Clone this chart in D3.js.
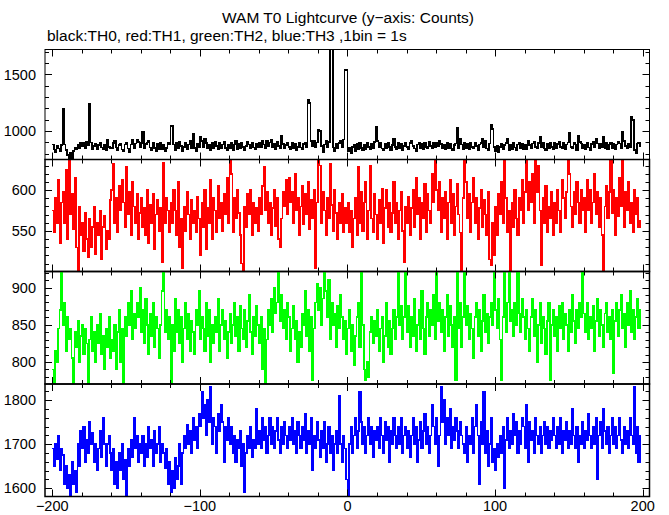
<!DOCTYPE html>
<html>
<head>
<meta charset="utf-8">
<script src="https://cdn.jsdelivr.net/npm/d3@7"></script>
<style>
  html, body { margin: 0; padding: 0; background: #fff; }
  svg { display: block; }
  text { font-family: "Liberation Sans", Arial, Helvetica, sans-serif; fill: #000; }
</style>
</head>
<body>
<svg id="chart" width="669" height="515"></svg>
<script>
// ---------------- data (1 s bins, time relative to T0) ----------------
const tStart = -200;
const xTicks = [-200, -100, 0, 100, 200];
const titleText = "WAM T0 Lightcurve (y\u2212axis: Counts)";
const subtitleText = "black:TH0, red:TH1, green:TH2, blue:TH3 ,1bin = 1s";
const seriesNames = ["TH0", "TH1", "TH2", "TH3"];
const seriesColors = ["#000000", "#ff0000", "#00ff00", "#0000ff"];

const th0 = [
880,835,815,870,845,820,875,1200,880,830,790,760,805,755,825,850,835,880,845,895,
865,900,850,905,875,1240,900,840,870,890,835,875,900,855,840,880,830,920,860,845,
850,895,915,855,830,875,890,835,820,880,900,845,815,880,920,850,890,925,905,860,
895,990,845,885,900,910,855,830,895,850,820,885,840,895,835,880,825,850,895,880,
1050,1045,880,830,895,845,905,870,825,860,895,840,880,910,845,975,850,820,890,860,
945,910,860,930,895,845,880,830,895,850,905,870,835,895,845,880,905,850,830,875,
845,895,830,880,910,840,885,845,900,860,830,870,905,880,845,895,855,835,890,860,
900,855,915,880,845,910,870,900,925,855,890,840,905,870,850,955,885,845,875,900,
860,835,895,845,885,830,860,895,855,840,885,900,860,1280,1250,910,870,915,860,900,
1015,1000,870,810,880,915,860,905,1740,1740,855,825,890,845,895,915,860,925,1540,1545,
820,850,805,860,875,825,885,840,895,850,830,880,840,895,860,835,885,845,905,1040,
910,855,895,845,830,885,850,895,860,830,875,935,860,840,895,850,885,830,870,895,
860,835,895,910,870,845,825,880,900,845,885,835,895,860,845,905,870,850,895,860,
900,865,910,885,845,880,835,895,850,885,845,830,875,890,1030,850,935,880,835,895,
850,885,835,895,860,845,900,870,830,880,895,935,860,915,845,830,890,1055,1020,860,
825,870,810,860,885,835,875,895,930,830,880,840,895,855,830,880,900,845,885,835,
880,840,910,875,850,890,905,860,845,895,945,855,900,845,830,885,850,895,860,840,
895,850,885,905,860,845,895,835,880,900,980,860,845,895,880,830,955,905,890,845,
880,835,895,855,830,885,905,860,935,890,845,885,860,950,850,895,835,880,900,845,
885,835,880,905,890,850,990,910,865,845,890,860,1125,1100,830,800,890,900,870
];

const th1 = [
575,548,590,560,612,535,585,598,560,625,540,637,570,596,552,615,530,500,580,545,
560,525,572,540,518,565,530,555,580,522,560,545,575,515,555,568,528,550,540,588,
600,632,560,590,548,605,575,612,585,555,628,570,598,545,610,580,560,595,540,572,
590,555,578,545,600,535,582,560,595,528,570,588,550,578,512,633,560,590,575,548,
585,560,600,575,545,610,530,565,505,580,550,598,570,540,588,560,575,548,592,565,
520,585,555,600,528,578,560,612,540,590,575,548,605,565,585,550,595,570,615,560,
637,620,548,590,565,600,572,545,510,500,580,555,595,570,600,545,585,560,578,550,
590,570,605,628,575,598,560,585,545,578,600,556,590,540,530,565,598,580,612,570,
615,585,598,560,620,575,590,545,580,605,558,595,570,610,552,588,566,600,505,585,
637,630,560,598,575,545,590,565,632,582,550,600,572,540,585,560,595,548,578,560,
585,548,575,530,565,590,545,628,560,598,550,585,610,540,575,630,565,548,595,570,
540,588,560,602,535,578,600,555,585,548,572,610,560,585,540,575,598,550,512,580,
560,592,545,578,600,555,615,570,590,540,585,565,608,548,595,575,560,620,585,637,
600,575,610,548,590,565,598,540,585,612,560,595,545,580,608,570,548,500,590,637,
610,565,595,548,585,615,560,590,540,578,600,555,588,570,545,598,515,508,560,520,
580,545,595,570,610,560,637,590,548,575,500,585,555,600,565,545,590,575,612,560,
598,637,575,610,585,620,560,637,598,630,575,508,590,560,605,548,580,565,598,545,
585,560,600,575,548,612,590,565,598,637,620,580,555,598,570,610,585,560,600,575,
590,548,612,575,600,560,585,620,570,598,555,590,545,502,580,605,565,598,637,572,
600,545,590,568,615,580,637,555,598,575,610,560,585,548,600,570,590,555,562
];

const th2 = [
790,772,815,800,845,870,921,850,880,815,860,830,845,805,772,840,820,855,800,835,
850,810,845,825,772,830,860,815,840,800,850,825,865,810,835,790,845,820,860,805,
830,815,850,790,840,870,800,845,772,860,835,880,850,895,830,865,845,880,860,900,
840,870,825,885,850,810,865,835,880,820,860,845,805,850,895,921,840,870,830,860,
772,850,815,885,840,870,825,860,800,845,880,830,865,815,855,840,810,870,850,895,
830,860,845,815,880,835,870,800,850,825,860,840,885,815,850,870,830,855,805,840,
865,825,850,880,835,860,815,875,845,830,870,820,855,890,840,810,860,835,875,850,
825,860,790,845,772,830,870,850,885,840,900,865,880,921,855,890,845,870,830,880,
860,815,845,875,830,855,800,840,820,865,850,895,835,870,815,860,775,845,880,905,
870,900,850,885,921,895,860,910,830,880,850,865,820,875,845,890,860,830,855,810,
845,870,815,850,795,835,860,880,820,921,850,790,775,800,780,840,860,825,855,835,
870,815,845,860,800,835,880,820,855,810,845,870,830,860,921,850,875,830,860,921,
840,875,820,860,835,885,815,850,870,830,895,845,810,860,880,835,870,850,890,830,
921,855,880,840,870,815,860,890,835,875,850,820,860,775,921,845,880,820,860,921,
850,875,830,865,845,805,860,880,835,870,815,855,890,840,865,825,860,880,850,921,
870,845,885,830,775,860,921,840,880,921,855,870,835,880,850,921,865,840,885,860,
830,870,845,815,860,885,835,870,800,850,880,825,860,845,810,855,880,775,850,870,
835,860,815,875,845,880,830,865,850,815,870,840,890,855,825,870,845,880,860,921,
865,840,880,830,860,845,875,815,855,885,835,870,850,820,865,880,840,860,830,870,
785,855,880,835,870,890,845,865,820,880,850,895,840,870,830,860,885,845,870
];

const th3 = [
1690,1650,1700,1665,1720,1640,1690,1675,1610,1650,1600,1630,1585,1660,1610,1640,1590,1700,1650,1730,
1690,1740,1660,1710,1680,1750,1700,1725,1660,1700,1640,1690,1730,1670,1760,1700,1650,1700,1720,1680,
1640,1690,1610,1660,1600,1680,1640,1700,1620,1665,1585,1690,1650,1710,1670,1760,1690,1720,1660,1700,
1680,1720,1650,1700,1670,1740,1690,1710,1650,1730,1680,1700,1740,1660,1700,1680,1645,1690,1610,1660,
1590,1640,1600,1670,1620,1650,1700,1610,1680,1720,1690,1745,1700,1730,1680,1760,1710,1740,1690,1770,
1740,1820,1760,1790,1720,1800,1750,1830,1700,1760,1740,1680,1770,1730,1790,1750,1660,1740,1710,1760,
1700,1740,1680,1720,1660,1710,1690,1730,1650,1700,1590,1680,1720,1690,1740,1670,1710,1690,1780,1700,
1730,1690,1760,1710,1740,1680,1720,1760,1700,1740,1690,1730,1760,1710,1680,1740,1700,1750,1720,1690,
1740,1710,1760,1700,1730,1680,1750,1720,1690,1740,1710,1770,1680,1730,1700,1760,1640,1720,1690,1750,
1710,1670,1730,1690,1750,1660,1700,1740,1680,1720,1640,1700,1730,1680,1810,1700,1660,1720,1690,1620,
1585,1700,1740,1680,1720,1760,1690,1730,1820,1750,1700,1740,1680,1720,1760,1700,1740,1670,1730,1710,
1740,1690,1760,1720,1680,1750,1710,1740,1660,1730,1700,1760,1720,1690,1740,1700,1760,1680,1720,1740,
1690,1730,1670,1720,1760,1700,1740,1660,1710,1750,1690,1730,1770,1700,1740,1680,1720,1790,1740,1700,
1760,1650,1720,1830,1750,1800,1700,1760,1720,1780,1690,1740,1710,1760,1730,1690,1750,1720,1700,1680,
1740,1660,1720,1700,1760,1680,1740,1790,1720,1610,1750,1700,1820,1680,1730,1650,1700,1760,1660,1690,
1640,1700,1670,1720,1680,1740,1600,1710,1760,1690,1730,1700,1770,1720,1750,1680,1730,1700,1760,1740,
1690,1790,1660,1750,1710,1730,1680,1760,1720,1700,1740,1680,1720,1750,1700,1740,1690,1730,1710,1760,
1720,1690,1740,1700,1760,1680,1730,1710,1750,1690,1730,1700,1780,1720,1690,1740,1660,1720,1700,1750,
1690,1730,1710,1770,1720,1690,1740,1700,1760,1620,1720,1750,1690,1780,1730,1700,1740,1680,1720,1760,
1700,1740,1690,1720,1760,1710,1680,1740,1700,1730,1690,1760,1720,1700,1830,1680,1740,1660,1720
];

// y-axis ranges, labelled ticks and minor tick steps per panel
const yDomains = [[748, 1721], [500.4, 637.4], [770.4, 921.5], [1581, 1837]];
const yLabelTicks = [[1000, 1500], [550, 600], [800, 850, 900], [1600, 1700, 1800]];
const yMinorSteps = [100, 10, 10, 20];

// ---------------- layout ----------------
const svg = d3.select("#chart");
const left = 45, right = 649.5;
const panelEdges = [49.5, 159.5, 271.5, 384, 496.5];

const x = d3.scaleLinear().domain([-204.9, 204.6]).range([left, right]);

svg.append("text").attr("x", 348).attr("y", 23).attr("text-anchor", "middle")
  .attr("font-size", 15.5).text(titleText);
svg.append("text").attr("x", 47).attr("y", 41).attr("text-anchor", "start")
  .attr("font-size", 15.5).text(subtitleText);

const allSeries = [th0, th1, th2, th3];
const defs = svg.append("defs");

allSeries.forEach((vals, k) => {
  const top = panelEdges[k], bottom = panelEdges[k + 1];
  const y = d3.scaleLinear().domain(yDomains[k]).range([bottom, top]);
  const g = svg.append("g");

  defs.append("clipPath").attr("id", "clip" + k)
    .append("rect").attr("x", left).attr("y", top).attr("width", right - left).attr("height", bottom - top);

  const pts = vals.map((v, i) => [tStart + i, v]);
  pts.push([tStart + vals.length, vals[vals.length - 1]]);
  const line = d3.line().x(d => x(d[0])).y(d => y(d[1])).curve(d3.curveStepAfter);
  g.append("path").attr("d", line(pts)).attr("fill", "none")
    .attr("stroke", seriesColors[k]).attr("stroke-width", 1.6)
    .attr("shape-rendering", "crispEdges")
    .attr("clip-path", "url(#clip" + k + ")");

  // x ticks top & bottom (inward)
  const xMinor = d3.range(-200, 201, 20);
  xMinor.forEach(t => {
    const major = t % 100 === 0;
    const len = major ? 7 : 4;
    const xp = Math.round(x(t)) + 0.5;
    g.append("line").attr("x1", xp).attr("x2", xp).attr("y1", top).attr("y2", top + len)
      .attr("stroke", "#000").attr("stroke-width", 1);
    g.append("line").attr("x1", xp).attr("x2", xp).attr("y1", bottom).attr("y2", bottom - len)
      .attr("stroke", "#000").attr("stroke-width", 1);
  });

  // y ticks left & right (inward)
  const step = yMinorSteps[k];
  const yTicks = d3.range(Math.ceil(yDomains[k][0] / step) * step, yDomains[k][1], step);
  yTicks.forEach(v => {
    const major = yLabelTicks[k].includes(v);
    const len = major ? 7 : 4;
    const yp = Math.round(y(v)) + 0.5;
    g.append("line").attr("x1", left).attr("x2", left + len).attr("y1", yp).attr("y2", yp)
      .attr("stroke", "#000").attr("stroke-width", 1);
    g.append("line").attr("x1", right).attr("x2", right - len).attr("y1", yp).attr("y2", yp)
      .attr("stroke", "#000").attr("stroke-width", 1);
  });

  // y labels
  yLabelTicks[k].forEach(v => {
    g.append("text").attr("x", 36).attr("y", y(v)).attr("dy", "0.36em")
      .attr("text-anchor", "end").attr("font-size", 14.5).text(v);
  });

  // frame
  g.append("rect").attr("x", left).attr("y", top).attr("width", right - left).attr("height", bottom - top)
    .attr("fill", "none").attr("stroke", "#000").attr("stroke-width", k === 0 ? 1 : 1.5);
});

// x labels under bottom panel
xTicks.forEach(t => {
  svg.append("text").attr("x", x(t)).attr("y", 511).attr("text-anchor", "middle")
    .attr("font-size", 14.5).text(t < 0 ? "\u2212" + Math.abs(t) : String(t));
});
</script>
</body>
</html>
